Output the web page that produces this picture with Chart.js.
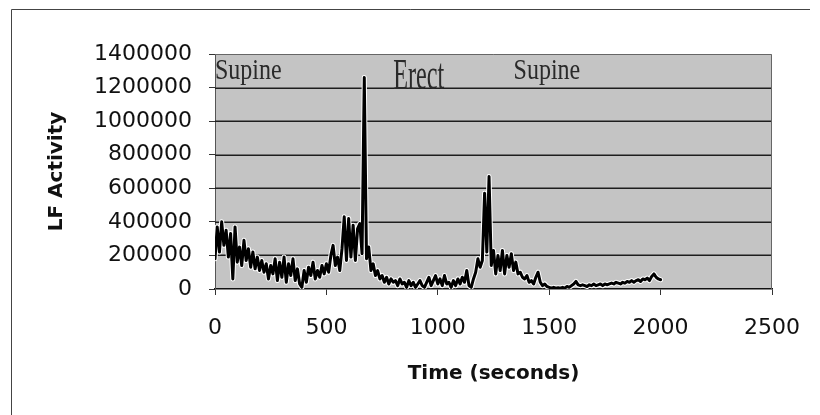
<!DOCTYPE html>
<html>
<head>
<meta charset="utf-8">
<script src="https://cdn.jsdelivr.net/npm/chart.js@4/dist/chart.umd.min.js"></script>
<style>
  html, body { margin: 0; padding: 0; background: #fff; }
  #wrap { width: 820px; height: 415px; position: relative; }
</style>
</head>
<body>
<div id="wrap"><canvas id="chart"></canvas></div>
<script>
// time in seconds, LF activity
const times = [
  0, 10, 20, 30, 40, 50, 60, 70, 80, 90, 100, 110, 120, 130, 140, 150, 160, 170, 180, 190,
  200, 210, 220, 230, 240, 250, 260, 270, 280, 290, 300, 310, 320, 330, 340, 350, 360, 370, 380, 390,
  400, 410, 420, 430, 440, 450, 460, 470, 480, 490, 500, 510, 520, 530, 540, 550, 560, 570, 580, 590,
  600, 610, 620, 630, 640, 650, 660, 670, 680, 690, 700, 710, 720, 730, 740, 750, 760, 770, 780, 790,
  800, 810, 820, 830, 840, 850, 860, 870, 880, 890, 900, 910, 920, 930, 940, 950, 960, 970, 980, 990,
  1000, 1010, 1020, 1030, 1040, 1050, 1060, 1070, 1080, 1090, 1100, 1110, 1120, 1130, 1140, 1150, 1160, 1170, 1180, 1190,
  1200, 1210, 1220, 1230, 1240, 1250, 1260, 1270, 1280, 1290, 1300, 1310, 1320, 1330, 1340, 1350, 1360, 1370, 1380, 1390,
  1400, 1410, 1420, 1430, 1440, 1450, 1460, 1470, 1480, 1490, 1500, 1510, 1520, 1530, 1540, 1550, 1560, 1570, 1580, 1590,
  1600, 1610, 1620, 1630, 1640, 1650, 1660, 1670, 1680, 1690, 1700, 1710, 1720, 1730, 1740, 1750, 1760, 1770, 1780, 1790,
  1800, 1810, 1820, 1830, 1840, 1850, 1860, 1870, 1880, 1890, 1900, 1910, 1920, 1930, 1940, 1950, 1960, 1970, 1980, 1990,
  2000
];
const lfActivity = [
  180000, 370000, 220000, 400000, 260000, 350000, 190000, 330000, 60000, 370000,
  160000, 250000, 140000, 290000, 170000, 240000, 130000, 220000, 120000, 190000,
  110000, 170000, 100000, 150000, 60000, 140000, 90000, 180000, 50000, 160000,
  70000, 190000, 40000, 150000, 80000, 180000, 50000, 120000, 30000, 10000,
  110000, 40000, 130000, 80000, 160000, 60000, 110000, 70000, 140000, 90000,
  150000, 100000, 200000, 260000, 140000, 190000, 110000, 240000, 430000, 170000,
  420000, 190000, 380000, 170000, 360000, 390000, 210000, 1260000, 180000, 250000,
  110000, 150000, 80000, 110000, 60000, 80000, 40000, 70000, 30000, 60000,
  40000, 50000, 20000, 60000, 30000, 40000, 10000, 50000, 20000, 40000,
  10000, 30000, 50000, 20000, 10000, 40000, 70000, 20000, 50000, 80000,
  30000, 60000, 20000, 80000, 30000, 40000, 10000, 50000, 20000, 60000,
  30000, 70000, 40000, 110000, 20000, 10000, 60000, 100000, 180000, 130000,
  170000, 570000, 220000, 670000, 140000, 230000, 90000, 200000, 110000, 230000,
  90000, 200000, 130000, 210000, 110000, 160000, 90000, 100000, 70000, 60000,
  80000, 40000, 50000, 30000, 70000, 100000, 40000, 20000, 30000, 15000,
  10000, 5000, 10000, 5000, 8000, 5000, 10000, 5000, 15000, 10000,
  20000, 30000, 45000, 25000, 20000, 25000, 20000, 15000, 25000, 20000,
  30000, 20000, 25000, 30000, 20000, 30000, 25000, 30000, 35000, 30000,
  40000, 35000, 30000, 40000, 35000, 45000, 40000, 50000, 40000, 50000,
  55000, 45000, 60000, 55000, 65000, 50000, 75000, 90000, 70000, 60000,
  55000
];
const xTicks = [0, 500, 1000, 1500, 2000, 2500];
const yTicks = [0, 200000, 400000, 600000, 800000, 1000000, 1200000, 1400000];
const phaseLabels = ["Supine", "Erect", "Supine"];
const phaseLabelTimes = [0, 800, 1340];

const points = times.map((t, i) => ({ x: t, y: lfActivity[i] }));

// grey plot area, gridlines, outer frame, phase captions
const decor = {
  id: "decor",
  beforeDraw(chart) {
    const { ctx, chartArea: a } = chart;
    ctx.save();
    ctx.fillStyle = "#c4c4c4";
    ctx.fillRect(a.left, a.top, a.right - a.left, a.bottom - a.top);
    ctx.strokeStyle = "#444";
    ctx.lineWidth = 1;
    ctx.beginPath();
    ctx.moveTo(11.5, 415);
    ctx.lineTo(11.5, 9.5);
    ctx.lineTo(810, 9.5);
    ctx.stroke();
    ctx.restore();
  },
  beforeDatasetsDraw(chart) {
    const { ctx, chartArea: a, scales } = chart;
    ctx.save();
    ctx.strokeStyle = "#1e1e1e";
    ctx.lineWidth = 1.5;
    yTicks.slice(1, -1).forEach(v => {
      const y = Math.round(scales.y.getPixelForValue(v)) + 0.25;
      ctx.beginPath();
      ctx.moveTo(a.left, y);
      ctx.lineTo(a.right, y);
      ctx.stroke();
    });
    ctx.restore();
  },
  afterDatasetsDraw(chart) {
    const { ctx, chartArea: a, scales } = chart;
    ctx.save();
    ctx.strokeStyle = "#666";
    ctx.lineWidth = 1;
    ctx.beginPath();
    ctx.moveTo(a.left, a.top + 0.5);
    ctx.lineTo(a.right - 0.5, a.top + 0.5);
    ctx.lineTo(a.right - 0.5, a.bottom);
    ctx.stroke();

    const looks = [
      { size: 30, sx: 0.8, base: 25 },
      { size: 44, sx: 0.55, base: 35 },
      { size: 30, sx: 0.8, base: 25 }
    ];
    ctx.fillStyle = "#2a2a2a";
    ctx.textBaseline = "alphabetic";
    phaseLabels.forEach((txt, i) => {
      const lk = looks[i];
      const x = scales.x.getPixelForValue(phaseLabelTimes[i]);
      ctx.save();
      ctx.translate(x, a.top + lk.base);
      ctx.scale(lk.sx, 1);
      ctx.font = lk.size + "px 'Liberation Serif', 'Times New Roman', serif";
      ctx.fillText(txt, 0, 0);
      ctx.restore();
    });
    ctx.restore();
  }
};

new Chart(document.getElementById("chart"), {
  type: "line",
  data: {
    datasets: [
      {
        data: points, borderColor: "#000", borderWidth: 3, pointRadius: 0, tension: 0,
        borderJoinStyle: "round", borderCapStyle: "round", order: 1
      },
      {
        data: points, borderColor: "#fff", borderWidth: 5, pointRadius: 0, tension: 0,
        borderJoinStyle: "round", borderCapStyle: "round", order: 2
      }
    ]
  },
  options: {
    responsive: true,
    maintainAspectRatio: false,
    animation: false,
    layout: { padding: { left: 30, top: 54, right: 46, bottom: 15 } },
    plugins: { legend: { display: false }, tooltip: { enabled: false } },
    scales: {
      x: {
        type: "linear",
        min: xTicks[0],
        max: xTicks[xTicks.length - 1],
        afterBuildTicks: s => { s.ticks = xTicks.map(v => ({ value: v })); },
        afterFit: s => { s.height = 111; },
        grid: { drawOnChartArea: false, drawTicks: true, tickLength: 6, color: "#333" },
        border: { color: "#111", width: 1.5 },
        ticks: {
          padding: 20,
          color: "#111",
          maxRotation: 0,
          font: { family: "DejaVu Sans", size: 22 },
          callback: v => String(v)
        },
        title: {
          display: true,
          text: "Time (seconds)",
          color: "#111",
          font: { family: "DejaVu Sans", size: 20, weight: "bold" },
          padding: { top: 0, bottom: 14 }
        }
      },
      y: {
        min: yTicks[0],
        max: yTicks[yTicks.length - 1],
        afterBuildTicks: s => { s.ticks = yTicks.map(v => ({ value: v })); },
        afterFit: s => { s.width = 185; },
        grid: { drawOnChartArea: false, drawTicks: true, color: "#333", tickLength: 6 },
        border: { color: "#555", width: 1 },
        ticks: {
          padding: 17,
          color: "#111",
          font: { family: "DejaVu Sans", size: 22 },
          callback: v => String(v)
        },
        title: {
          display: true,
          text: "LF Activity",
          color: "#111",
          font: { family: "DejaVu Sans", size: 20, weight: "bold" },
          padding: { top: 15, bottom: 0 }
        }
      }
    }
  },
  plugins: [decor]
});
</script>
</body>
</html>
